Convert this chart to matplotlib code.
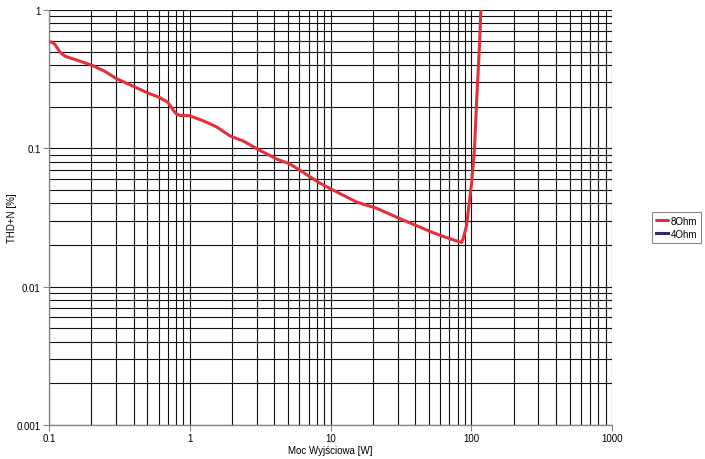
import matplotlib
matplotlib.use("Agg")
import matplotlib.pyplot as plt
from matplotlib.ticker import LogLocator, FixedLocator, NullFormatter, FixedFormatter

plt.rcParams['font.family'] = ['Liberation Sans', 'DejaVu Sans']

# Data (8 Ohm measured curve); 4 Ohm series has no visible points
power_8ohm = [0.1, 0.105, 0.11, 0.12, 0.13, 0.157, 0.2, 0.25, 0.3, 0.4, 0.5, 0.6,
              0.7, 0.76, 0.8, 0.85, 1.0, 1.25, 1.55, 1.93, 2.4, 3.07, 4.16, 5.16,
              6.4, 8.4, 10.4, 15.4, 21.1, 31.2, 52.4, 61.5, 80, 85.5, 88, 92.6,
              100.7, 105.4, 109.4, 114.7, 117]
thdn_8ohm = [0.59, 0.585, 0.565, 0.495, 0.463, 0.435, 0.40, 0.36, 0.32, 0.28, 0.252, 0.235,
             0.215, 0.19, 0.178, 0.173, 0.172, 0.158, 0.143, 0.123, 0.113, 0.098, 0.0835, 0.077,
             0.067, 0.056, 0.05, 0.0408, 0.037, 0.031, 0.0248, 0.0233, 0.0213, 0.0209, 0.0225, 0.0276,
             0.0568, 0.0989, 0.227, 0.584, 1.0]
power_4ohm = []
thdn_4ohm = []

x_ticks = [0.1, 1, 10, 100, 1000]
x_tick_labels = ['0.1', '1', '10', '100', '1000']
y_ticks = [0.001, 0.01, 0.1, 1]
y_tick_labels = ['0.001', '0.01', '0.1', '1']

fig = plt.figure(figsize=(7.05, 4.6), dpi=100)
ax = fig.add_axes([49/705, 1 - 426/460, (612 - 49)/705, (426 - 11)/460])

ax.set_xscale('log')
ax.set_yscale('log')
ax.set_xlim(0.1, 1000)
ax.set_ylim(0.001, 1)

ax.plot(power_8ohm, thdn_8ohm, color='#e3303a', lw=2.2, label='8Ohm',
        solid_capstyle='round', solid_joinstyle='round', zorder=3)
ax.plot(power_4ohm, thdn_4ohm, color='#2e2e6e', lw=2.2, label='4Ohm', zorder=3)

ax.xaxis.set_major_locator(FixedLocator(x_ticks))
ax.xaxis.set_major_formatter(FixedFormatter(x_tick_labels))
ax.yaxis.set_major_locator(FixedLocator(y_ticks))
ax.yaxis.set_major_formatter(FixedFormatter(y_tick_labels))
ax.xaxis.set_minor_locator(LogLocator(base=10, subs=range(2, 10), numticks=20))
ax.yaxis.set_minor_locator(LogLocator(base=10, subs=range(2, 10), numticks=20))
ax.xaxis.set_minor_formatter(NullFormatter())
ax.yaxis.set_minor_formatter(NullFormatter())

ax.grid(True, which='both', color='#111111', lw=0.8, zorder=1)
ax.tick_params(which='minor', length=0)
ax.tick_params(which='major', length=4, width=0.8, color='#888888', labelsize=7, pad=2)

for s in ['top', 'right']:
    ax.spines[s].set_visible(False)
for s in ['left', 'bottom']:
    ax.spines[s].set_color('#888888')
    ax.spines[s].set_linewidth(1.0)

ax.set_xlabel('Moc Wyjściowa [W]', fontsize=7, labelpad=1)
ax.set_ylabel('THD+N [%]', fontsize=7)
ax.yaxis.set_label_coords((17 - 49) / 563, 0.5)

leg = fig.legend(loc='upper left', bbox_to_anchor=(652/705, 1 - 213/460), fontsize=7,
                 frameon=True, fancybox=False, edgecolor='#888888', framealpha=1,
                 handlelength=1.2, handletextpad=0.3, borderpad=0.4, labelspacing=0.3,
                 borderaxespad=0)
leg.get_frame().set_linewidth(0.8)

fig.savefig('out.png', dpi=100)
